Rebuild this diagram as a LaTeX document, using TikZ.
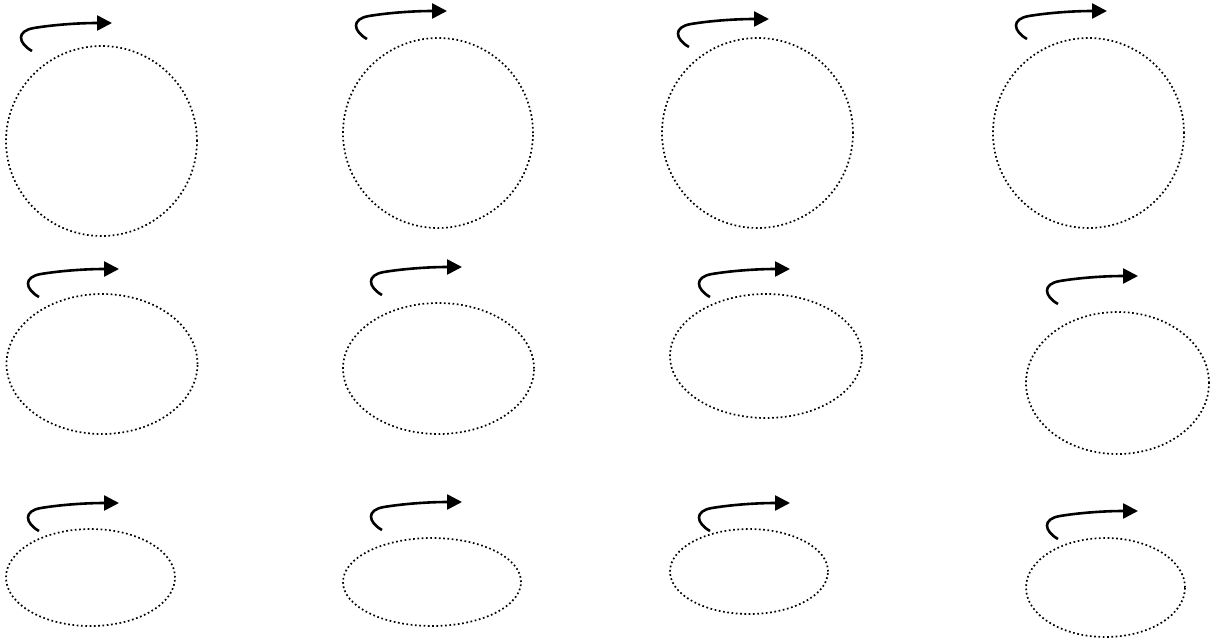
\documentclass[tikz,border=0pt]{standalone}
\usetikzlibrary{shapes.geometric,arrows.meta}
\tikzset{
  dotring/.style={ellipse, draw, inner sep=0pt, line width=1.7pt, dash pattern=on 1.7pt off 2.6pt},
  turnarrow/.style={line width=2.6pt, -{Triangle[length=15pt,width=15pt]}},
  rot/.pic={\draw[turnarrow] (0,0) .. controls (-14,-8) and (-16,-20) .. (2,-23) .. controls (20,-26) and (45,-28) .. (80,-28);}
}
\begin{document}
\begin{tikzpicture}[x=1pt,y=-1pt]
\useasboundingbox (0,0) rectangle (1219,642);
% row 1
\node[dotring, minimum width=191pt, minimum height=190pt] (e11) at (101.5,141) {};
\node[dotring, minimum width=190pt, minimum height=190pt] (e12) at (438,133) {};
\node[dotring, minimum width=191pt, minimum height=190pt] (e13) at (757.5,133) {};
\node[dotring, minimum width=191pt, minimum height=190pt] (e14) at (1088.5,133) {};
% row 2
\node[dotring, minimum width=191pt, minimum height=140pt] (e21) at (102,364) {};
\node[dotring, minimum width=191pt, minimum height=131pt] (e22) at (438.5,368.5) {};
\node[dotring, minimum width=192pt, minimum height=124pt] (e23) at (766,356) {};
\node[dotring, minimum width=183pt, minimum height=142pt] (e24) at (1117.5,383) {};
% row 3
\node[dotring, minimum width=169pt, minimum height=97pt] (e31) at (90.5,577.5) {};
\node[dotring, minimum width=178pt, minimum height=88pt] (e32) at (432,582) {};
\node[dotring, minimum width=158pt, minimum height=85pt] (e33) at (749,571.5) {};
\node[dotring, minimum width=159pt, minimum height=99pt] (e34) at (1105.5,587.5) {};
% arrows
\coordinate (a11) at (32,51);
\coordinate (a12) at (367,39);
\coordinate (a13) at (689,47);
\coordinate (a14) at (1027,39);
\coordinate (a21) at (39,297);
\coordinate (a22) at (382,295);
\coordinate (a23) at (710,297);
\coordinate (a24) at (1058,304);
\coordinate (a31) at (39,531);
\coordinate (a32) at (382,530);
\coordinate (a33) at (710,531);
\coordinate (a34) at (1058,539);
\foreach \a in {a11,a12,a13,a14,a21,a22,a23,a24,a31,a32,a33,a34}
  \pic at (\a) {rot};
\end{tikzpicture}
\end{document}
